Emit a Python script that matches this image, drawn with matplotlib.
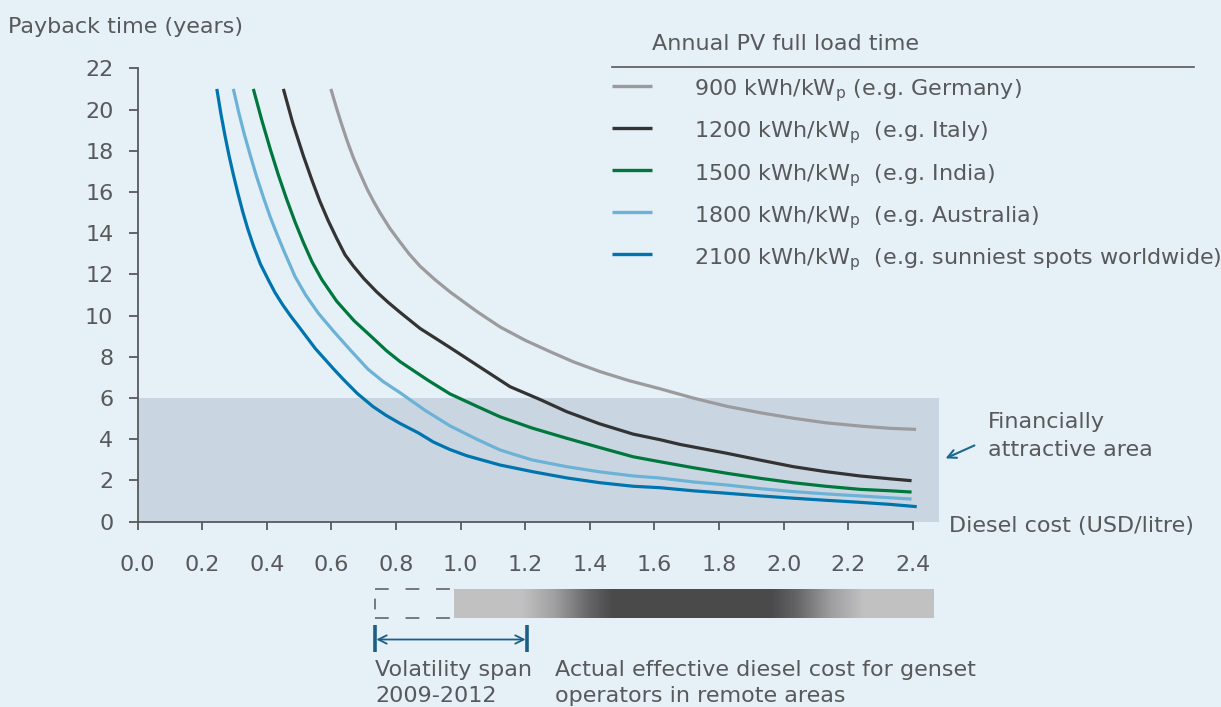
import numpy as np
import matplotlib
matplotlib.use('Agg')
import matplotlib.pyplot as plt
from matplotlib.lines import Line2D
from matplotlib import transforms

# payback curves: diesel cost (USD/litre) -> payback (years)
x_900 = [0.598, 0.615, 0.63, 0.648, 0.668, 0.69, 0.71, 0.73, 0.75, 0.78, 0.813, 0.84, 0.874, 0.92,
         0.967, 1.05, 1.122, 1.2, 1.277, 1.35, 1.432, 1.52, 1.617, 1.72, 1.824, 1.93, 2.03, 2.13,
         2.236, 2.33, 2.41]
y_900 = [21.0, 20.1, 19.35, 18.5, 17.65, 16.85, 16.15, 15.55, 15.0, 14.25, 13.55, 13.0, 12.4, 11.75,
         11.15, 10.2, 9.45, 8.8, 8.25, 7.75, 7.28, 6.85, 6.45, 6.0, 5.6, 5.28, 5.02, 4.8,
         4.64, 4.53, 4.48]
x_1200 = [0.451, 0.48, 0.513, 0.54, 0.564, 0.59, 0.616, 0.642, 0.668, 0.70, 0.74, 0.775, 0.813,
          0.874, 0.967, 1.05, 1.153, 1.25, 1.328, 1.43, 1.534, 1.617, 1.679, 1.824, 1.93, 2.03,
          2.13, 2.236, 2.33, 2.396]
y_1200 = [21.0, 19.35, 17.75, 16.55, 15.55, 14.6, 13.75, 12.95, 12.4, 11.8, 11.15, 10.65, 10.15,
          9.38, 8.45, 7.6, 6.55, 5.9, 5.34, 4.75, 4.25, 3.98, 3.75, 3.32, 2.98, 2.67,
          2.43, 2.22, 2.08, 1.99]
x_1500 = [0.358, 0.383, 0.41, 0.435, 0.46, 0.487, 0.513, 0.54, 0.57, 0.616, 0.67, 0.729, 0.77,
          0.813, 0.9, 0.967, 1.05, 1.122, 1.22, 1.328, 1.43, 1.534, 1.617, 1.72, 1.824, 1.93,
          2.03, 2.13, 2.236, 2.33, 2.396]
y_1500 = [21.0, 19.55, 18.1, 16.85, 15.7, 14.55, 13.55, 12.6, 11.75, 10.7, 9.75, 8.9, 8.3,
          7.76, 6.85, 6.2, 5.6, 5.09, 4.55, 4.05, 3.6, 3.15, 2.91, 2.62, 2.35, 2.1,
          1.89, 1.72, 1.57, 1.5, 1.44]
x_1800 = [0.296, 0.313, 0.33, 0.35, 0.368, 0.39, 0.41, 0.43, 0.451, 0.487, 0.52, 0.56, 0.606,
          0.66, 0.713, 0.76, 0.813, 0.89, 0.967, 1.05, 1.122, 1.22, 1.328, 1.43, 1.534, 1.617,
          1.72, 1.824, 1.93, 2.03, 2.13, 2.236, 2.33, 2.396]
y_1800 = [21.0, 19.85, 18.8, 17.7, 16.75, 15.7, 14.8, 14.0, 13.2, 11.9, 11.0, 10.1, 9.25,
          8.3, 7.4, 6.8, 6.25, 5.4, 4.65, 4.0, 3.48, 3.0, 2.67, 2.42, 2.22, 2.12,
          1.93, 1.78, 1.6, 1.46, 1.35, 1.25, 1.16, 1.10]
x_2100 = [0.245, 0.257, 0.27, 0.283, 0.296, 0.31, 0.325, 0.34, 0.358, 0.38, 0.404, 0.425, 0.45,
          0.475, 0.502, 0.55, 0.606, 0.637, 0.68, 0.729, 0.77, 0.812, 0.87, 0.915, 0.967, 1.019,
          1.122, 1.225, 1.33, 1.432, 1.534, 1.617, 1.72, 1.824, 1.93, 2.03, 2.13, 2.236, 2.33,
          2.412]
y_2100 = [21.0, 19.85, 18.75, 17.75, 16.85, 15.95, 15.05, 14.25, 13.4, 12.5, 11.75, 11.12, 10.5,
          9.95, 9.4, 8.4, 7.42, 6.9, 6.22, 5.58, 5.15, 4.77, 4.3, 3.87, 3.5, 3.2,
          2.75, 2.42, 2.12, 1.89, 1.72, 1.65, 1.5, 1.38, 1.25, 1.14, 1.04, 0.94, 0.84,
          0.73]

series_x = [x_900, x_1200, x_1500, x_1800, x_2100]
series_y = [y_900, y_1200, y_1500, y_1800, y_2100]
labels = ['900 kWh/kW$_\\mathregular{p}$ (e.g. Germany)',
          '1200 kWh/kW$_\\mathregular{p}$  (e.g. Italy)',
          '1500 kWh/kW$_\\mathregular{p}$  (e.g. India)',
          '1800 kWh/kW$_\\mathregular{p}$  (e.g. Australia)',
          '2100 kWh/kW$_\\mathregular{p}$  (e.g. sunniest spots worldwide)']
colors = ['#9b9b9d', '#333334', '#00773d', '#6cb2d6', '#0074ae']

attractive_max = 6          # years
xticks = [0.0, 0.2, 0.4, 0.6, 0.8, 1.0, 1.2, 1.4, 1.6, 1.8, 2.0, 2.2, 2.4]
yticks = list(range(0, 23, 2))

# actual diesel cost band (gradient) and 2009-2012 volatility span
grad_x = [0.98, 1.19, 1.29, 1.40, 1.47, 1.96, 2.04, 2.15, 2.25, 2.465]
grad_level = [193, 193, 160, 100, 74, 74, 100, 160, 193, 193]
span = [0.735, 1.205]
dashed_box = [0.735, 0.968]

BG = '#e5f0f7'
SHADE = '#c9d6e2'
TXT = '#58595b'
ARROW = '#1c6890'
FS = 16

plt.rcParams['font.family'] = ['DejaVu Sans']
plt.rcParams['mathtext.fontset'] = 'custom'
plt.rcParams['mathtext.rm'] = 'DejaVu Sans'

W, H = 1221, 707
fig = plt.figure(figsize=(W / 100, H / 100), dpi=100)
fig.patch.set_facecolor(BG)


def fx(px):
    return px / W


def fy(py):
    return 1 - py / H


x0, x1, ytop, ybot = 137.7, 938.7, 68.3, 521.7
ax = fig.add_axes([fx(x0), fy(ybot), (x1 - x0) / W, (ybot - ytop) / H])
ax.patch.set_alpha(0)
ax.set_xlim(0, 2.48)
ax.set_ylim(0, 22)

ax.axhspan(0, attractive_max, color=SHADE, lw=0, zorder=0)
for xs, ys, c in zip(series_x, series_y, colors):
    ax.plot(xs, ys, color=c, lw=2.3, solid_capstyle='butt', solid_joinstyle='round', zorder=3)

for s in ['top', 'right']:
    ax.spines[s].set_visible(False)
ax.spines['left'].set_bounds(0, 22)
ax.spines['bottom'].set_bounds(0, 2.4)
for s in ['left', 'bottom']:
    ax.spines[s].set_color(TXT)
    ax.spines[s].set_linewidth(1.3)
    ax.spines[s].set_zorder(4)
ax.set_xticks(xticks)
ax.set_xticklabels(['%.1f' % v for v in xticks])
ax.set_yticks(yticks)
ax.tick_params(axis='x', length=6, width=1.3, color=TXT, labelcolor=TXT, labelsize=FS, pad=18)
ax.tick_params(axis='y', length=6.5, width=1.3, color=TXT, labelcolor=TXT, labelsize=FS, pad=11)

# axis titles
fig.text(fx(8), fy(32.7), 'Payback time (years)', color=TXT, fontsize=FS, va='baseline')
fig.text(fx(949), fy(531.7), 'Diesel cost (USD/litre)', color=TXT, fontsize=FS, va='baseline')

# legend, drawn by hand
fig.text(fx(652), fy(50), 'Annual PV full load time', color=TXT, fontsize=FS, va='baseline')
fig.add_artist(Line2D([fx(612), fx(1194)], [fy(67.3), fy(67.3)], color=TXT, lw=1.2))
for i, (lab, c) in enumerate(zip(labels, colors)):
    yy = 85.7 + i * 42.15
    fig.add_artist(Line2D([fx(612), fx(652)], [fy(yy), fy(yy)], color=c, lw=2.4,
                          solid_capstyle='butt'))
    fig.text(fx(694), fy(yy + 10), lab, color=TXT, fontsize=FS, va='baseline')

# financially attractive area note
fig.text(fx(988), fy(428.3), 'Financially', color=TXT, fontsize=FS, va='baseline')
fig.text(fx(988), fy(456), 'attractive area', color=TXT, fontsize=FS, va='baseline')
ax.annotate('', xy=(943, H - 459.5), xytext=(977, H - 444.3),
            xycoords='figure pixels', textcoords='figure pixels',
            arrowprops=dict(arrowstyle='->,head_length=0.6,head_width=0.3', color=ARROW, lw=1.5))

# diesel cost gradient bar
ax2 = fig.add_axes([fx(x0), fy(618), (x1 - x0) / W, (618 - 589) / H])
ax2.axis('off')
gx = np.linspace(grad_x[0], grad_x[-1], 600)
g = np.interp(gx, grad_x, grad_level) / 255.0
img = np.dstack([g, g, np.clip(g + 0.006, 0, 1)]).reshape(1, -1, 3)
ax2.imshow(img, extent=(grad_x[0], grad_x[-1], 0, 1), aspect='auto', interpolation='bilinear')
ax2.set_xlim(0, 2.48)
ax2.set_ylim(0, 1)
ax2.plot([dashed_box[0], dashed_box[0]], [0.5, 1], color=TXT, lw=1.1, clip_on=False,
         ls=(4.5, (8, 11)))
ax2.plot([dashed_box[0], dashed_box[1]], [1, 1], color=TXT, lw=1.1, clip_on=False,
         ls=(0, (9, 11)))
ax2.plot([dashed_box[0], dashed_box[0]], [0.5, 0], color=TXT, lw=1.1, clip_on=False,
         ls=(4.5, (8, 11)))
ax2.plot([dashed_box[0], dashed_box[1]], [0, 0], color=TXT, lw=1.1, clip_on=False,
         ls=(0, (9, 11)))

# volatility span
trans = transforms.blended_transform_factory(ax.transData, fig.transFigure)
for xv in span:
    ax.plot([xv, xv], [fy(625), fy(652)], color='#1b5f86', lw=2.6, transform=trans,
            clip_on=False, solid_capstyle='butt')
ax.annotate('', xy=(span[1] - 0.004, fy(639.5)), xytext=(span[0] + 0.004, fy(639.5)),
            xycoords=trans, textcoords=trans,
            arrowprops=dict(arrowstyle='<->,head_length=0.6,head_width=0.3', color='#1b5f86',
                            lw=1.3, shrinkA=0, shrinkB=0))

fig.text(fx(375), fy(676), 'Volatility span', color=TXT, fontsize=FS, va='baseline')
fig.text(fx(375), fy(701.5), '2009-2012', color=TXT, fontsize=FS, va='baseline')
fig.text(fx(555), fy(676), 'Actual effective diesel cost for genset', color=TXT, fontsize=FS,
         va='baseline')
fig.text(fx(555), fy(701.5), 'operators in remote areas', color=TXT, fontsize=FS, va='baseline')

fig.savefig('out.png', dpi=100, facecolor=BG)
